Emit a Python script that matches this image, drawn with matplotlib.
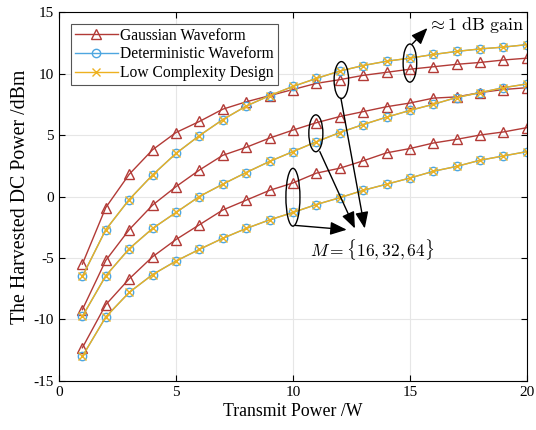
import numpy as np
import matplotlib.pyplot as plt
from matplotlib.patches import Ellipse

plt.rcParams['font.family'] = ['Liberation Serif', 'DejaVu Serif']
plt.rcParams['mathtext.fontset'] = 'cm'
plt.rcParams['axes.unicode_minus'] = False

power = np.arange(1, 21)

# harvested DC power (dBm), one list per M = 64, 32, 16
gauss_64 = [-5.5, -0.9, 1.8, 3.8, 5.2, 6.1, 7.1, 7.7, 8.2, 8.7,
            9.2, 9.5, 9.85, 10.1, 10.35, 10.55, 10.75, 10.9, 11.1, 11.25]
gauss_32 = [-9.2, -5.2, -2.7, -0.7, 0.8, 2.15, 3.35, 4.0, 4.75, 5.4,
            6.0, 6.5, 6.9, 7.3, 7.6, 8.0, 8.1, 8.45, 8.7, 8.85]
gauss_16 = [-12.3, -8.8, -6.7, -4.9, -3.5, -2.3, -1.1, -0.3, 0.5, 1.1,
            1.9, 2.3, 2.9, 3.55, 3.9, 4.35, 4.65, 5.0, 5.25, 5.6]

det_64 = [-6.5, -2.7, -0.25, 1.75, 3.5, 4.95, 6.25, 7.35, 8.2, 8.95,
          9.6, 10.2, 10.65, 11.0, 11.25, 11.55, 11.8, 12.0, 12.15, 12.35]
det_32 = [-9.75, -6.45, -4.25, -2.6, -1.3, 0.0, 1.0, 1.95, 2.85, 3.65,
          4.45, 5.2, 5.85, 6.45, 7.0, 7.5, 8.05, 8.45, 8.85, 9.15]
det_16 = [-13.0, -9.8, -7.8, -6.35, -5.25, -4.3, -3.4, -2.6, -1.9, -1.3,
          -0.65, -0.1, 0.5, 1.0, 1.5, 2.05, 2.45, 2.95, 3.3, 3.65]

low_64 = [-6.5, -2.7, -0.25, 1.75, 3.5, 4.95, 6.25, 7.35, 8.2, 8.95,
          9.6, 10.2, 10.65, 11.0, 11.25, 11.55, 11.8, 12.0, 12.15, 12.35]
low_32 = [-9.75, -6.45, -4.25, -2.6, -1.3, 0.0, 1.0, 1.95, 2.85, 3.65,
          4.45, 5.2, 5.85, 6.45, 7.0, 7.5, 8.05, 8.45, 8.85, 9.15]
low_16 = [-13.0, -9.8, -7.8, -6.35, -5.25, -4.3, -3.4, -2.6, -1.9, -1.3,
          -0.65, -0.1, 0.5, 1.0, 1.5, 2.05, 2.45, 2.95, 3.3, 3.65]

red = '#B23A36'
blue = '#4DA6E0'
yellow = '#EDB120'

fig = plt.figure(figsize=(5.36, 4.3), dpi=100)
ax = fig.add_axes([0.110, 0.114, 0.873, 0.858])

for i, (g, d, l) in enumerate(zip([gauss_64, gauss_32, gauss_16],
                                  [det_64, det_32, det_16],
                                  [low_64, low_32, low_16])):
    ax.plot(power, g, color=red, marker='^', mfc='none', ms=7, mew=1.0, lw=1.0,
            label='Gaussian Waveform' if i == 0 else None)
    ax.plot(power, d, color=blue, marker='o', mfc='none', ms=6, mew=1.0, lw=1.0,
            label='Deterministic Waveform' if i == 0 else None)
    ax.plot(power, l, color=yellow, marker='x', ms=6, mew=1.0, lw=1.0,
            label='Low Complexity Design' if i == 0 else None)

ax.set_xlim(0, 20)
ax.set_ylim(-15, 15)
ax.set_xticks([0, 5, 10, 15, 20])
ax.set_yticks(range(-15, 16, 5))
ax.grid(True, color='#E6E6E6', lw=0.8)
ax.set_axisbelow(True)
ax.tick_params(direction='in', top=True, right=True, labelsize=11, length=4)
for s in ax.spines.values():
    s.set_linewidth(0.8)
ax.set_xlabel('Transmit Power /W', fontsize=12.8, labelpad=3)
ax.set_ylabel('The Harvested DC Power /dBm', fontsize=14.3, labelpad=3)

leg = ax.legend(loc='upper left', fontsize=11.2, fancybox=False, framealpha=1,
                edgecolor='#555555', borderpad=0.25, labelspacing=0.18,
                handlelength=2.8, handletextpad=0.15, borderaxespad=0.75)
leg.get_frame().set_linewidth(0.8)

# ellipses around the compared points
for cx, cy, w, h in [(15, 10.85, 0.58, 3.1), (12.07, 9.47, 0.62, 3.0),
                     (10.98, 5.14, 0.6, 3.0), (10.0, -0.06, 0.6, 4.7)]:
    ax.add_patch(Ellipse((cx, cy), w, h, fill=False, color='black', lw=1.0, zorder=5))

arrow = dict(arrowstyle='-|>,head_length=1.0,head_width=0.4', color='black', lw=1.0,
             shrinkA=0, shrinkB=0)
ax.annotate('', xy=(15.75, 13.7), xytext=(15.1, 12.4), arrowprops=arrow)
ax.text(15.75, 13.95, r'$\approx 1\ \mathrm{dB\ gain}$', fontsize=13, va='center', ha='left')

ax.annotate('', xy=(13.07, -2.6), xytext=(12.05, 8.0), arrowprops=arrow)
ax.annotate('', xy=(12.65, -2.6), xytext=(11.15, 3.65), arrowprops=arrow)
ax.annotate('', xy=(12.3, -2.7), xytext=(10.1, -2.35), arrowprops=arrow)
ax.text(13.4, -4.35, r'$M=\{16,32,64\}$', fontsize=12.5, ha='center', va='center')

fig.savefig('out.png', dpi=100)
